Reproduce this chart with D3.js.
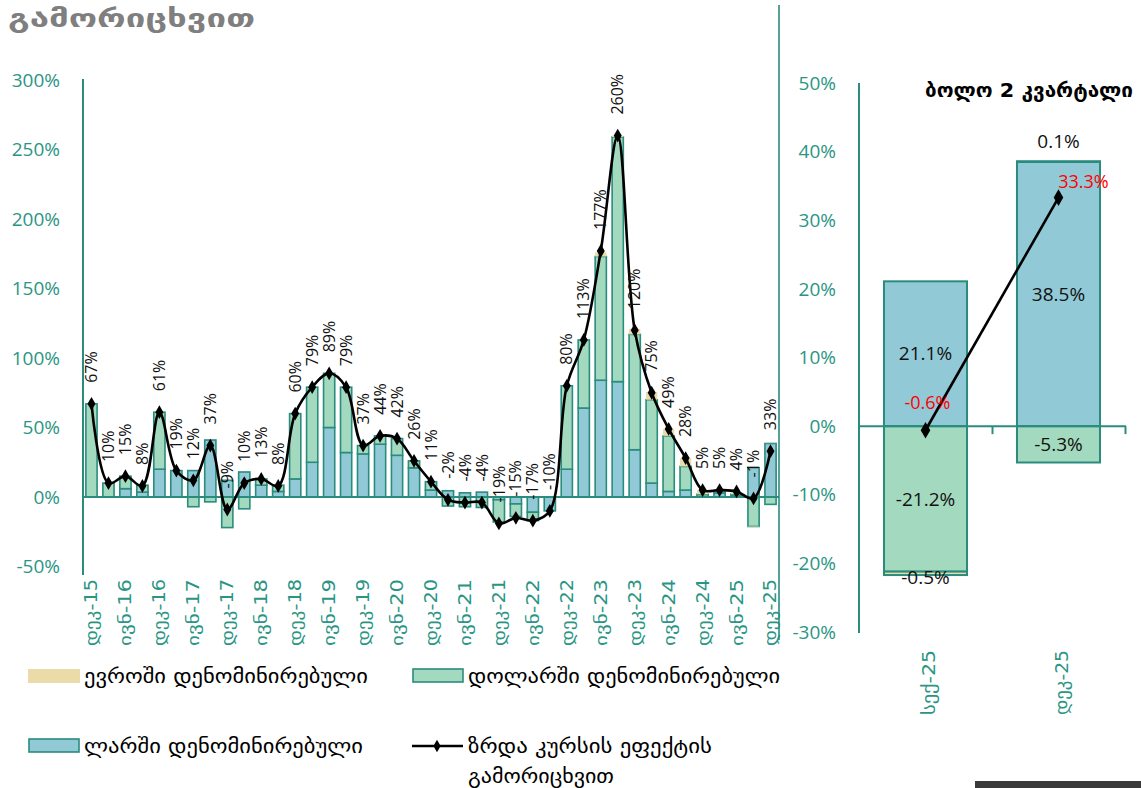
<!DOCTYPE html>
<html>
<head>
<meta charset="utf-8">
<script src="https://cdn.jsdelivr.net/npm/d3@7/dist/d3.min.js"></script>
<style>
body { margin: 0; background: #fff; }
svg { display: block; }
text { font-family: "Open Sans", "DejaVu Sans", sans-serif; }
.geo { font-family: "DejaVu Sans", sans-serif; }
</style>
</head>
<body>
<svg id="chart" width="1141" height="788"></svg>
<script>
// quarterly categories, დეკ-15 .. დეკ-25
var quarters = ['დეკ-15','მარ-16','ივნ-16','სექ-16','დეკ-16','მარ-17','ივნ-17','სექ-17','დეკ-17',
	'მარ-18','ივნ-18','სექ-18','დეკ-18','მარ-19','ივნ-19','სექ-19','დეკ-19','მარ-20','ივნ-20','სექ-20',
	'დეკ-20','მარ-21','ივნ-21','სექ-21','დეკ-21','მარ-22','ივნ-22','სექ-22','დეკ-22','მარ-23','ივნ-23',
	'სექ-23','დეკ-23','მარ-24','ივნ-24','სექ-24','დეკ-24','მარ-25','ივნ-25','სექ-25','დეკ-25'];
var lariDenom = [0,0,6,3.5,20,19,19,41,12,18,8.5,4,13,25,50,32,31,38,30,21,5,4.5,3,3.5,-2,-5,-11,-10,
	20,64,84,83,34,10,4,5,0.5,3,1,21.1,38.5];
var dollarDenom = [67,10,9,5,41,0,-7,-3.5,-22,-8.5,4.5,4.5,47,54,39,47,6,6,12,5,6,-6.5,-7,-7.5,-16,-9,-6,0,
	60,49,89,176,83,60,40,17,1.5,1,1,-21.2,-5.3];
var euroDenom = [0,0,0,0,0,0,0,0,0,0,0,0,0,0,0,0,0,0,0,0,0,0,0,0,0,0,0,0,
	0,0,3,1,4,5.5,5,6,3,1,1.5,-0.5,0.1];
var growthExFx = [67,10,15,8,61,19,12,37,-9,10,13,8,60,79,89,79,37,44,42,26,11,-2,-4,-4,-19,-15,-17,-10,
	80,113,177,260,120,75,49,28,5,5,4,-1,33];
var leftTicks = [-50,0,50,100,150,200,250,300];

// last two quarters panel
var lastQuarters = ['სექ-25','დეკ-25'];
var lastLari = [21.1, 38.5];
var lastDollar = [-21.2, -5.3];
var lastEuro = [-0.5, 0.1];
var lastGrowth = [-0.6, 33.3];
var rightTicks = [-30,-20,-10,0,10,20,30,40,50];

var seriesNames = ['ევროში დენომინირებული','დოლარში დენომინირებული','ლარში დენომინირებული','ზრდა კურსის ეფექტის'];

var teal = '#2a8c7e', tickCol = '#2b9584';
var colBlue = '#92c9d6', colGreen = '#a3d9be', colEuro = '#eadba8';

var svg = d3.select('#chart');

function stackRows(cats, l, d, e) {
	var rows = cats.map(function (c, i) { return { cat: c, lari: l[i], dollar: d[i], euro: e[i] }; });
	return d3.stack().keys(['lari','dollar','euro']).offset(d3.stackOffsetDiverging)(rows);
}
var fills = { lari: colBlue, dollar: colGreen, euro: colEuro };

// georgian glyphs in DejaVu are narrower than the original font, stretch to the measured width
function geoText(sel, len) {
	return sel.attr('class', 'geo').attr('textLength', len).attr('lengthAdjust', 'spacingAndGlyphs');
}

// ---------- left panel ----------
var x = d3.scaleBand().domain(quarters).range([83, 779]).paddingInner(0.34).paddingOuter(0.17);
var y = d3.scaleLinear().domain([-50, 300]).range([566.5, 80]);

svg.append('g').selectAll('text').data(leftTicks).enter().append('text')
	.attr('x', 60).attr('y', function (d) { return y(d); }).attr('dy', '0.35em')
	.attr('text-anchor', 'end').attr('font-size', 19).attr('fill', tickCol)
	.text(function (d) { return d + '%'; });

var stacked = stackRows(quarters, lariDenom, dollarDenom, euroDenom);
svg.append('g').selectAll('g').data(stacked).enter().append('g')
	.attr('fill', function (s) { return fills[s.key]; })
	.attr('stroke', function (s) { return s.key == 'euro' ? 'none' : teal; })
	.attr('stroke-width', 1.6)
	.selectAll('rect').data(function (s) { return s; }).enter().append('rect')
	.attr('x', function (d) { return x(d.data.cat); })
	.attr('width', x.bandwidth())
	.attr('y', function (d) { return y(Math.max(d[0], d[1])); })
	.attr('height', function (d) { return Math.abs(y(d[0]) - y(d[1])); });

svg.append('line').attr('x1', 83).attr('x2', 83).attr('y1', 79).attr('y2', 575)
	.attr('stroke', teal).attr('stroke-width', 2);
svg.append('line').attr('x1', 83).attr('x2', 779).attr('y1', y(0)).attr('y2', y(0))
	.attr('stroke', teal).attr('stroke-width', 2);

var cx = function (i) { return x(quarters[i]) + x.bandwidth() / 2; };
var line = d3.line().x(function (d, i) { return cx(i); }).y(function (d) { return y(d); })
	.curve(d3.curveCatmullRom.alpha(0.5));
svg.append('path').datum(growthExFx).attr('d', line)
	.attr('fill', 'none').attr('stroke', '#000').attr('stroke-width', 2.6);
svg.append('g').selectAll('path').data(growthExFx).enter().append('path')
	.attr('d', d3.symbol().type(d3.symbolDiamond).size(55))
	.attr('transform', function (d, i) { return 'translate(' + cx(i) + ',' + y(d) + ')'; })
	.attr('fill', '#000');
svg.append('g').selectAll('text').data(growthExFx).enter().append('text')
	.attr('transform', function (d, i) { return 'translate(' + cx(i) + ',' + (y(d) - 21) + ') rotate(-90)'; })
	.attr('dy', '0.35em').attr('font-size', 16).attr('fill', '#111')
	.text(function (d) { return d + '%'; });

// category labels, every second quarter
svg.append('g').selectAll('text').data(quarters.filter(function (q, i) { return i % 2 == 0; })).enter()
	.append('text').call(geoText, 67)
	.attr('transform', function (d) { return 'translate(' + (x(d) + x.bandwidth() / 2) + ',579) rotate(-90)'; })
	.attr('dy', '0.35em').attr('text-anchor', 'end').attr('font-size', 17).attr('fill', tickCol)
	.text(function (d) { return d; });

// separator between the panels
svg.append('line').attr('x1', 779).attr('x2', 779).attr('y1', 5).attr('y2', 640)
	.attr('stroke', teal).attr('stroke-width', 1.6);

// ---------- right panel ----------
var x2 = d3.scaleBand().domain(lastQuarters).range([859, 1125]).paddingInner(0.376).paddingOuter(0.188);
var y2 = d3.scaleLinear().domain([-30, 50]).range([632, 83]);

svg.append('g').selectAll('text').data(rightTicks).enter().append('text')
	.attr('x', 836).attr('y', function (d) { return y2(d); }).attr('dy', '0.35em')
	.attr('text-anchor', 'end').attr('font-size', 19).attr('fill', tickCol)
	.text(function (d) { return d + '%'; });

var stacked2 = stackRows(lastQuarters, lastLari, lastDollar, lastEuro);
svg.append('g').selectAll('g').data(stacked2).enter().append('g')
	.attr('fill', function (s) { return fills[s.key]; })
	.attr('stroke', teal).attr('stroke-width', 2)
	.selectAll('rect').data(function (s) { return s; }).enter().append('rect')
	.attr('x', function (d) { return x2(d.data.cat); })
	.attr('width', x2.bandwidth())
	.attr('y', function (d) { return y2(Math.max(d[0], d[1])); })
	.attr('height', function (d) { return Math.abs(y2(d[0]) - y2(d[1])); });

svg.append('line').attr('x1', 859).attr('x2', 859).attr('y1', 83).attr('y2', 633)
	.attr('stroke', teal).attr('stroke-width', 2);
svg.append('line').attr('x1', 859).attr('x2', 1126).attr('y1', y2(0)).attr('y2', y2(0))
	.attr('stroke', teal).attr('stroke-width', 2);
svg.append('g').selectAll('line').data(lastQuarters).enter().append('line')
	.attr('x1', function (d) { return x2(d) + x2.step() * (1 - 0.188) + 0.5; })
	.attr('x2', function (d) { return x2(d) + x2.step() * (1 - 0.188) + 0.5; })
	.attr('y1', y2(0)).attr('y2', y2(0) + 8)
	.attr('stroke', teal).attr('stroke-width', 2);

// segment labels
svg.append('g').selectAll('g').data(stacked2).enter().append('g')
	.selectAll('text').data(function (s) { return s.map(function (d) { return { key: s.key, d: d }; }); })
	.enter().append('text')
	.attr('x', function (o) { return x2(o.d.data.cat) + x2.bandwidth() / 2; })
	.attr('y', function (o) {
		var v = o.d.data[o.key];
		if (o.key == 'euro') return v > 0 ? y2(o.d[1]) - 20 : y2(o.d[0]) + 2;
		return (y2(o.d[0]) + y2(o.d[1])) / 2;
	})
	.attr('dy', '0.35em').attr('text-anchor', 'middle').attr('font-size', 19).attr('fill', '#111')
	.text(function (o) { return o.d.data[o.key].toFixed(1) + '%'; });

var cx2 = function (i) { return x2(lastQuarters[i]) + x2.bandwidth() / 2; };
svg.append('path').datum(lastGrowth)
	.attr('d', d3.line().x(function (d, i) { return cx2(i); }).y(function (d) { return y2(d); }))
	.attr('fill', 'none').attr('stroke', '#000').attr('stroke-width', 2.6);
svg.append('g').selectAll('path').data(lastGrowth).enter().append('path')
	.attr('d', d3.symbol().type(d3.symbolDiamond).size(80))
	.attr('transform', function (d, i) { return 'translate(' + cx2(i) + ',' + y2(d) + ')'; })
	.attr('fill', '#000');
svg.append('g').selectAll('text').data(lastGrowth).enter().append('text')
	.attr('x', function (d, i) { return cx2(i) + (i == 0 ? 2 : 25); })
	.attr('y', function (d, i) { return y2(d) - (i == 0 ? 28 : 16); })
	.attr('dy', '0.35em').attr('text-anchor', 'middle').attr('font-size', 18).attr('fill', '#ff0000')
	.text(function (d) { return d.toFixed(1) + '%'; });

svg.append('g').selectAll('text').data(lastQuarters).enter().append('text').call(geoText, 65)
	.attr('transform', function (d) { return 'translate(' + (x2(d) + x2.bandwidth() / 2 + 3) + ',650) rotate(-90)'; })
	.attr('dy', '0.35em').attr('text-anchor', 'end').attr('font-size', 18).attr('fill', tickCol)
	.text(function (d) { return d; });

svg.append('text').call(geoText, 208).attr('x', 925).attr('y', 97)
	.attr('font-size', 20).attr('font-weight', 'bold').attr('fill', '#000')
	.text('ბოლო 2 კვარტალი');

// title remnant at top
svg.append('text').call(geoText, 247).attr('x', 8).attr('y', 27)
	.attr('font-size', 25).attr('font-weight', 'bold').attr('fill', '#7f7f7f')
	.text('გამორიცხვით');

// ---------- legend ----------
var leg = svg.append('g');
leg.append('rect').attr('x', 28).attr('y', 669).attr('width', 52).attr('height', 14).attr('fill', colEuro);
leg.append('text').call(geoText, 284).attr('x', 84).attr('y', 676).attr('dy', '0.35em').attr('font-size', 19).text(seriesNames[0]);
leg.append('rect').attr('x', 413).attr('y', 669).attr('width', 50).attr('height', 13)
	.attr('fill', colGreen).attr('stroke', teal).attr('stroke-width', 1.6);
leg.append('text').call(geoText, 312).attr('x', 468).attr('y', 676).attr('dy', '0.35em').attr('font-size', 19).text(seriesNames[1]);
leg.append('rect').attr('x', 29).attr('y', 739).attr('width', 50).attr('height', 13)
	.attr('fill', colBlue).attr('stroke', teal).attr('stroke-width', 1.6);
leg.append('text').call(geoText, 279).attr('x', 84).attr('y', 746).attr('dy', '0.35em').attr('font-size', 19).text(seriesNames[2]);
leg.append('line').attr('x1', 412).attr('x2', 463).attr('y1', 746).attr('y2', 746)
	.attr('stroke', '#000').attr('stroke-width', 2.6);
leg.append('path').attr('d', d3.symbol().type(d3.symbolDiamond).size(45)())
	.attr('transform', 'translate(437,746)').attr('fill', '#000');
leg.append('text').call(geoText, 244).attr('x', 468).attr('y', 746).attr('dy', '0.35em').attr('font-size', 19).text(seriesNames[3]);
leg.append('text').call(geoText, 146).attr('x', 468).attr('y', 776).attr('dy', '0.35em').attr('font-size', 19).text('გამორიცხვით');

svg.append('rect').attr('x', 975).attr('y', 781).attr('width', 166).attr('height', 7).attr('fill', '#3a3a3a');
</script>
</body>
</html>
